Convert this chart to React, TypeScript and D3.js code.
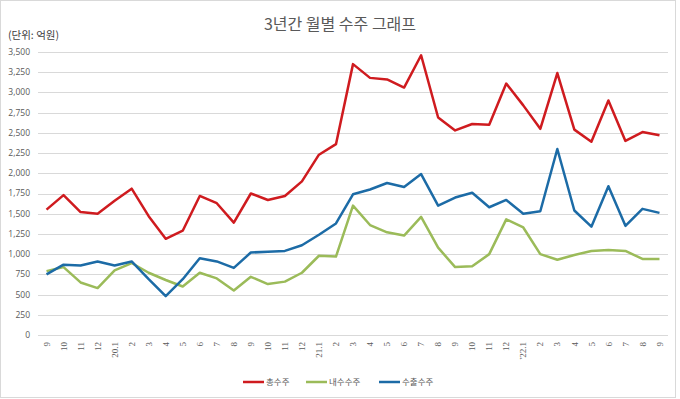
import { useRef, useEffect } from 'react'
import * as d3 from 'd3'

const months = [
  '9', '10', '11', '12',
  '20.1', '2', '3', '4', '5', '6', '7', '8', '9', '10', '11', '12',
  '21.1', '2', '3', '4', '5', '6', '7', '8', '9', '10', '11', '12',
  "'22.1", '2', '3', '4', '5', '6', '7', '8', '9',
]

const totalOrders = [
  1550, 1730, 1520, 1500,
  1660, 1810, 1470, 1190, 1290, 1720, 1630, 1390, 1750, 1670, 1720, 1900,
  2230, 2360, 3350, 3180, 3160, 3060, 3460, 2690, 2530, 2610, 2600, 3110,
  2840, 2550, 3240, 2540, 2390, 2900, 2400, 2510, 2470,
]

const domesticOrders = [
  790, 840, 650, 580,
  800, 890, 770, 680, 600, 770, 700, 550, 720, 630, 660, 770,
  980, 970, 1600, 1360, 1270, 1230, 1460, 1080, 840, 850, 1000, 1430,
  1330, 1000, 930, 990, 1040, 1050, 1040, 940, 940,
]

const exportOrders = [
  750, 870, 860, 910,
  860, 910, 690, 480, 690, 950, 910, 830, 1020, 1030, 1040, 1110,
  1240, 1380, 1740, 1800, 1880, 1830, 1990, 1600, 1700, 1760, 1580, 1670,
  1500, 1530, 2300, 1540, 1340, 1840, 1350, 1560, 1510,
]

const seriesNames = ['총수주', '내수수주', '수출수주']
const seriesColors = ['#CF1B1F', '#9BBB59', '#1C6BA6']
const yTicks = [0, 250, 500, 750, 1000, 1250, 1500, 1750, 2000, 2250, 2500, 2750, 3000, 3250, 3500]

const W = 680
const H = 399
const KR = "'Noto Sans CJK KR', 'Noto Sans', sans-serif"

export default function App() {
  const ref = useRef<SVGSVGElement>(null)

  useEffect(() => {
    if (!ref.current) return
    const svg = d3.select(ref.current)
    svg.selectAll('*').remove()

    const left = 38
    const right = 668
    const top = 52
    const bottom = 335

    svg.append('rect')
      .attr('x', 0.5).attr('y', 0.5)
      .attr('width', W - 5).attr('height', H - 2)
      .attr('fill', '#fff')
      .attr('stroke', '#d9d9d9')

    const idx = months.map((_, i) => String(i))
    const x = d3.scalePoint<string>().domain(idx).range([left, right]).padding(0.5)
    const y = d3.scaleLinear().domain([0, 3500]).range([bottom, top])

    // grid
    svg.append('g')
      .selectAll('line')
      .data(yTicks)
      .enter()
      .append('line')
      .attr('x1', left).attr('x2', right)
      .attr('y1', d => Math.round(y(d)) + 0.5)
      .attr('y2', d => Math.round(y(d)) + 0.5)
      .attr('stroke', '#d9d9d9')

    // y labels
    svg.append('g')
      .selectAll('text')
      .data(yTicks)
      .enter()
      .append('text')
      .attr('x', 30)
      .attr('y', d => y(d))
      .attr('dy', '0.35em')
      .attr('text-anchor', 'end')
      .attr('font-family', "'Open Sans', 'Noto Sans', sans-serif")
      .attr('font-size', 8.5)
      .attr('fill', '#595959')
      .text(d => d3.format(',')(d))

    // x labels, rotated
    svg.append('g')
      .selectAll('text')
      .data(months)
      .enter()
      .append('text')
      .attr('transform', (_, i) => `translate(${x(String(i))},${bottom + 7}) rotate(-90)`)
      .attr('dy', '0.35em')
      .attr('text-anchor', 'end')
      .attr('font-family', "'Liberation Serif', serif")
      .attr('font-size', 9)
      .attr('fill', '#595959')
      .text(d => d)

    const line = d3.line<number>()
      .x((_, i) => x(String(i)) || 0)
      .y(d => y(d))

    const all = [totalOrders, domesticOrders, exportOrders]
    all.forEach((values, k) => {
      svg.append('path')
        .datum(values)
        .attr('d', line)
        .attr('fill', 'none')
        .attr('stroke', seriesColors[k])
        .attr('stroke-width', 2.5)
        .attr('stroke-linejoin', 'round')
    })

    // title
    svg.append('text')
      .attr('x', 340).attr('y', 24)
      .attr('dy', '0.35em')
      .attr('text-anchor', 'middle')
      .attr('font-family', KR)
      .attr('font-size', 16)
      .attr('fill', '#595959')
      .text('3년간 월별 수주 그래프')

    svg.append('text')
      .attr('x', 8).attr('y', 35)
      .attr('dy', '0.35em')
      .attr('font-family', KR)
      .attr('font-size', 10.5)
      .attr('fill', '#404040')
      .text('(단위: 억원)')

    // legend
    const legendX = [243, 306, 379]
    const lg = svg.append('g')
    seriesNames.forEach((name, k) => {
      lg.append('line')
        .attr('x1', legendX[k]).attr('x2', legendX[k] + 21)
        .attr('y1', 382).attr('y2', 382)
        .attr('stroke', seriesColors[k])
        .attr('stroke-width', 2.5)
      lg.append('text')
        .attr('x', legendX[k] + 23).attr('y', 382)
        .attr('dy', '0.35em')
        .attr('font-family', KR)
        .attr('font-size', 8.5)
        .attr('fill', '#595959')
        .text(name)
    })
  }, [])

  return (
    <svg
      ref={ref}
      width={W}
      height={H}
      style={{ position: 'absolute', left: 0, top: 0, display: 'block' }}
    />
  )
}
